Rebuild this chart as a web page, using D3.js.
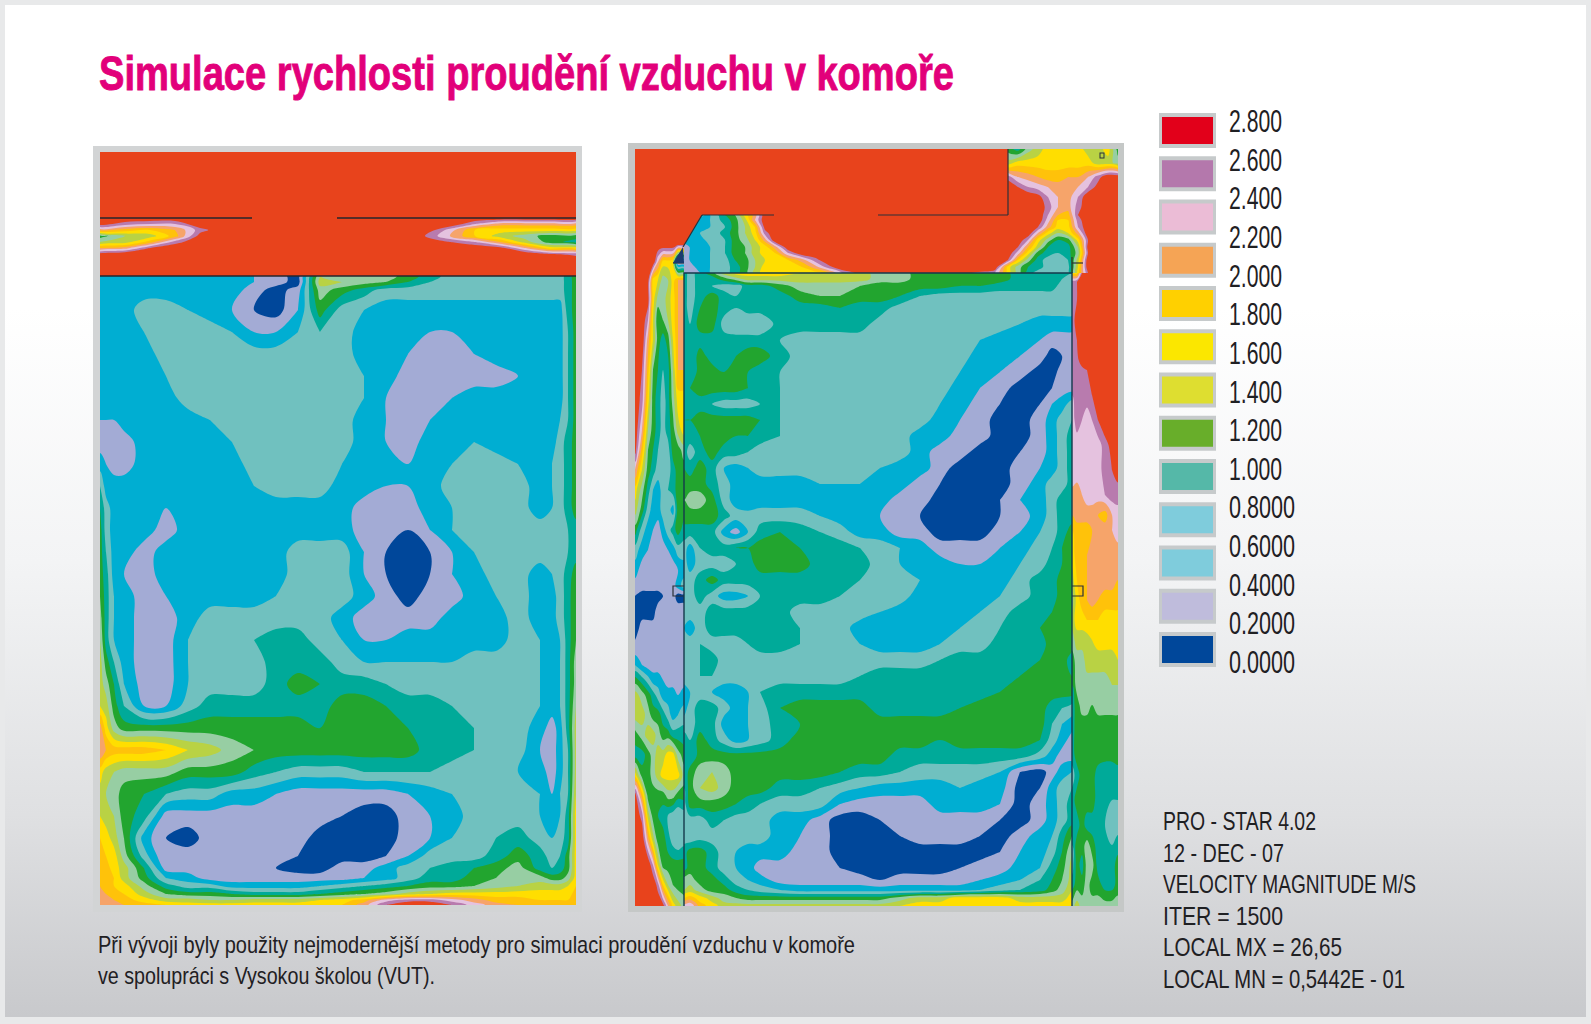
<!DOCTYPE html>
<html lang="cs">
<head>
<meta charset="utf-8">
<title>Simulace rychlosti proudění vzduchu v komoře</title>
<script src="https://cdn.jsdelivr.net/npm/d3@7"></script>
<style>
  html, body { margin: 0; padding: 0; background: #e8e9ea; }
  svg { display: block; }
  text { font-family: "Liberation Sans Narrow", "Liberation Sans", sans-serif; fill: #1f2023; }
</style>
</head>
<body>
<svg id="chart" width="1591" height="1024"></svg>
<script>
// velocity in tenths of m/s at each grid node
const bandLevels = [0, 2, 4, 6, 8, 10, 12, 14, 16, 18, 20, 22, 24, 26];
const bandColors = ['#00479a', '#a3abd5', '#00aed2', '#70c1bf', '#00aa99', '#22a52f', '#97cea3',
  '#b9d244', '#ffde00', '#ffc20a', '#f6a46a', '#e5c2df', '#b87bae', '#e8431c'];

const legendLabels = ['2.800', '2.600', '2.400', '2.200', '2.000', '1.800', '1.600', '1.400',
  '1.200', '1.000', '0.8000', '0.6000', '0.4000', '0.2000', '0.0000'];
const legendSwatches = ['#e2001a', '#b478ac', '#ebbcd6', '#f5a455', '#ffd000', '#fbe700', '#dede30',
  '#68ae2a', '#55b8a8', '#7fccdc', '#7fccdc', '#bfbcdc', '#00479a'];

const titleText = 'Simulace rychlosti proudění vzduchu v komoře';
const captionLines = ['Při vývoji byly použity nejmodernější metody pro simulaci proudění vzduchu v komoře',
  've spolupráci s Vysokou školou (VUT).'];
const noteLines = ['PRO - STAR 4.02', '12 - DEC - 07', 'VELOCITY MAGNITUDE M/S', 'ITER = 1500',
  'LOCAL MX = 26,65', 'LOCAL MN = 0,5442E - 01'];

// ---- left panel: inlet above the chamber ----
const inletX = [100, 125, 150, 175, 200, 225, 250, 275, 300, 325, 350, 375, 400, 425, 450, 475, 500, 525, 550, 576];
const inletY = [152, 218, 224, 230, 236, 242, 248, 254, 260, 276];
const inletValues = [
  [28,28,28,28,28,28,28,28,28,28,28,28,28,28,28,28,28,28,28,28],
  [28,28,28,28,28,28,28,28,28,28,28,28,28,28,28,28,28,28,28,28],
  [27,25,24,24,28,28,28,28,28,28,28,28,28,28,28,24,21,21,21,21],
  [21,19,18,20,25,28,28,28,28,28,28,28,28,28,23,18,17,17,17,17],
  [11,14,15,19,27,28,28,28,28,28,28,28,28,26,22,18,15,13,11,11],
  [14,15,19,25,28,28,28,28,28,28,28,28,28,28,26,24,20,15,11,9],
  [20,21,26,28,28,28,28,28,28,28,28,28,28,28,28,28,27,22,17,17],
  [27,28,28,28,28,28,28,28,28,28,28,28,28,28,28,28,28,28,26,25],
  [28,28,28,28,28,28,28,28,28,28,28,28,28,28,28,28,28,28,28,28],
  [28,28,28,28,28,28,28,28,28,28,28,28,28,28,28,28,28,28,28,28],
];

// ---- left panel: chamber ----
const leftX = [100, 106, 114, 124, 144, 166, 188, 210, 232, 254, 276, 298, 320, 342, 364, 386, 408, 430, 452, 474, 496, 518, 540, 552, 560, 568, 576];
const leftY = [276, 282, 290, 310, 332, 354, 376, 398, 420, 442, 464, 486, 508, 530, 552, 574, 596, 618, 640, 662, 684, 706, 728, 750, 772, 794, 816, 838, 856, 868, 878, 886, 894, 900, 905];
const leftValues = [
  [5,5,5,5,5,5,5,5,5,4,3,1,14,13,13,13,11,9,7,7,7,7,7,7,7,9,11],
  [5,5,5,5,5,5,5,5,5,4,3,1,15,14,13,12,10,8,7,7,7,7,7,7,7,9,11],
  [5,5,5,5,5,5,5,5,5,3,1,3,13,11,9,7,7,7,7,7,7,7,7,7,7,9,11],
  [5,5,5,5,7,7,6,5,4,2,1,4,11,7,6,5,5,5,5,5,5,5,5,5,5,9,11],
  [5,5,5,5,6,7,7,7,6,4,4,6,8,7,5,5,5,4,4,5,5,5,5,5,5,8,11],
  [5,5,5,5,5,7,7,7,7,7,7,7,7,7,5,5,4,3,3,4,5,5,5,5,5,8,11],
  [5,5,5,5,5,6,7,7,7,7,7,7,7,7,6,5,3,3,3,3,3,4,5,5,5,8,11],
  [5,5,5,5,5,5,7,7,7,7,7,7,7,7,6,4,3,3,4,5,5,4,5,5,5,8,11],
  [4,4,4,5,5,5,5,6,7,7,7,7,7,7,5,4,3,4,5,5,5,5,5,5,6,8,11],
  [3,3,3,3,5,5,5,5,6,7,7,7,7,7,5,4,3,5,5,6,5,5,5,5,7,9,11],
  [5,4,3,3,5,5,5,5,5,7,7,7,7,6,5,5,4,5,6,7,7,6,5,6,7,9,11],
  [8,5,5,5,5,5,5,5,5,6,7,7,7,5,5,4,4,5,7,7,7,7,5,6,7,9,11],
  [10,7,5,5,5,4,5,5,5,5,5,5,5,5,3,3,3,5,6,7,7,7,5,6,7,9,11],
  [11,7,5,5,5,3,5,5,5,5,5,5,5,5,3,2,2,4,6,7,7,7,7,7,7,8,9],
  [11,8,5,5,3,5,5,5,5,5,5,7,7,7,4,2,1,2,4,6,7,7,7,7,7,8,9],
  [11,9,5,4,3,5,5,5,5,5,5,7,7,7,4,2,1,2,4,5,7,7,5,6,7,9,11],
  [12,9,6,5,3,4,5,5,5,5,6,7,7,7,5,3,1,3,3,5,6,7,5,5,7,9,12],
  [13,9,6,5,3,3,5,7,7,7,7,7,7,5,3,3,3,3,5,5,5,7,5,5,7,9,12],
  [14,9,6,5,3,3,6,7,7,8,9,9,7,6,4,4,5,5,5,5,5,7,6,5,6,9,12],
  [15,11,8,5,3,3,6,7,7,7,9,9,9,7,6,6,6,6,6,7,7,7,6,5,6,9,13],
  [15,13,10,6,3,3,6,7,7,7,9,11,10,9,9,8,7,7,7,7,7,7,6,5,6,9,13],
  [16,15,11,8,4,4,7,9,9,9,9,9,9,11,11,10,9,9,8,7,7,7,6,5,6,9,14],
  [21,17,13,11,11,11,11,11,11,11,11,11,10,11,11,11,10,9,9,8,7,7,5,3,5,9,15],
  [22,20,19,19,19,18,16,15,13,12,11,11,11,11,11,11,11,9,9,8,7,7,4,3,5,8,15],
  [17,15,14,13,13,13,11,11,11,9,8,7,7,7,8,8,8,8,7,7,7,6,5,3,5,8,15],
  [15,14,13,11,10,8,7,7,5,5,4,3,3,3,3,3,4,5,6,7,7,7,6,4,6,8,16],
  [16,15,14,11,9,3,3,3,3,3,3,3,3,2,1,1,3,4,5,7,7,7,6,5,6,9,17],
  [18,17,15,12,5,2,1,3,3,3,3,3,1,1,1,1,3,4,6,7,8,9,7,6,7,9,17],
  [19,18,17,13,7,2,3,3,3,3,3,2,1,1,1,2,4,7,7,7,9,11,9,7,8,11,17],
  [20,19,17,15,10,3,3,3,3,3,2,1,1,3,3,5,7,8,9,10,11,13,9,8,9,11,17],
  [20,19,18,15,11,6,5,3,3,3,3,3,3,3,4,5,7,9,9,11,12,13,13,11,11,13,17],
  [20,19,18,17,13,9,7,7,5,5,5,5,6,7,8,9,10,11,11,12,13,14,15,15,15,16,18],
  [20,20,19,18,15,12,11,11,10,9,9,9,10,11,12,13,15,16,17,17,17,17,17,17,17,17,19],
  [20,20,20,19,17,15,15,14,14,15,15,15,16,17,19,23,25,25,23,21,19,19,18,18,18,18,19],
  [21,20,20,20,19,18,17,17,17,17,17,17,17,18,21,26,28,28,26,23,21,20,19,19,19,19,20],
];

// ---- right panel: chamber ----
const rightX = [684, 690, 700, 712, 724, 736, 748, 760, 780, 800, 820, 840, 860, 880, 900, 920, 940, 960, 980, 1000, 1020, 1040, 1052, 1062, 1072];
const rightY = [273, 279, 286, 296, 308, 324, 340, 356, 372, 388, 404, 420, 436, 452, 468, 484, 500, 516, 532, 548, 564, 580, 596, 612, 628, 644, 660, 676, 692, 708, 724, 740, 756, 772, 788, 804, 820, 836, 852, 868, 880, 890, 898, 906];
const rightValues = [
  [9,7,9,11,15,17,17,17,17,16,15,15,15,13,13,11,11,11,11,11,9,9,9,8,8],
  [9,7,9,9,11,13,15,15,15,15,15,15,15,13,13,11,11,11,11,11,9,9,9,8,7],
  [9,7,9,8,7,7,9,9,11,13,13,13,12,11,11,11,11,10,10,9,9,9,9,7,7],
  [9,7,9,11,9,8,9,9,9,11,12,12,11,11,10,8,7,7,7,7,7,7,7,7,7],
  [9,7,10,11,9,8,9,9,9,9,9,10,9,9,7,7,7,7,7,7,7,7,7,7,7],
  [9,8,11,11,7,6,6,6,9,9,9,9,9,7,7,7,7,7,7,7,6,5,5,5,5],
  [9,8,9,9,9,9,9,9,8,7,7,7,7,7,7,7,7,7,6,5,5,4,3,3,3],
  [9,8,11,9,9,10,11,11,9,7,7,7,7,7,7,7,7,7,5,5,4,3,1,2,3],
  [8,8,11,11,10,10,10,9,8,7,7,7,7,7,7,7,7,6,5,4,3,1,1,3,3],
  [9,10,11,11,11,11,10,9,8,7,7,7,7,7,7,7,7,5,4,3,1,1,2,3,3],
  [9,9,9,8,7,7,7,8,8,7,7,7,7,7,7,7,6,5,3,2,1,2,4,5,7],
  [10,10,11,11,11,11,11,10,8,7,7,7,7,7,7,7,5,4,3,1,1,3,5,7,8],
  [9,9,10,11,11,10,10,9,8,7,7,7,7,7,7,5,5,3,3,1,1,3,5,7,9],
  [9,7,9,11,9,9,8,7,7,7,7,7,7,7,7,5,3,3,1,1,2,3,5,7,9],
  [10,9,11,9,6,5,6,7,7,7,7,7,7,6,5,5,3,1,1,1,3,4,5,7,9],
  [10,11,11,9,7,5,4,5,5,5,6,6,6,5,5,3,2,1,1,1,3,5,7,7,9],
  [12,13,13,11,7,5,4,5,5,5,5,5,5,5,3,3,1,1,1,2,4,5,7,9,9],
  [11,11,11,11,9,7,7,7,7,7,6,5,5,4,3,2,1,1,1,2,3,5,7,9,9],
  [9,9,9,9,5,3,6,9,10,9,8,7,5,5,3,3,1,1,1,3,4,6,7,9,11],
  [7,5,8,9,9,10,10,11,11,10,9,9,8,7,6,5,3,3,3,4,5,7,8,10,11],
  [7,5,7,7,7,8,9,11,11,11,9,9,9,7,6,5,5,4,4,5,6,7,9,10,11],
  [8,7,9,11,9,9,9,9,9,9,9,9,8,7,7,6,5,5,5,5,7,9,9,11,11],
  [8,7,9,7,5,5,6,8,9,9,9,8,7,7,7,5,5,5,5,6,7,9,9,11,11],
  [8,7,7,9,9,9,9,9,9,7,7,7,7,6,5,5,5,5,6,7,9,9,10,11,11],
  [6,5,7,9,9,9,9,9,9,8,7,7,5,5,5,5,5,6,7,8,9,10,11,11,11],
  [6,7,8,7,7,7,8,9,9,8,7,7,6,5,5,5,6,7,7,9,9,9,11,11,11],
  [7,7,8,9,7,7,7,7,7,7,7,7,7,7,7,7,8,9,9,9,9,10,11,11,9],
  [7,7,8,8,7,7,7,7,7,7,7,7,8,9,9,9,9,9,9,9,10,11,11,11,10],
  [5,6,7,6,5,5,6,8,9,9,9,9,9,9,9,9,9,9,9,10,11,11,11,11,11],
  [5,7,9,9,7,5,6,7,10,11,11,11,11,9,9,9,9,10,11,11,11,11,9,8,7],
  [7,7,9,9,5,5,6,7,9,10,11,11,11,11,11,11,11,11,11,11,11,11,8,6,5],
  [9,8,11,9,7,5,6,7,9,11,11,11,11,11,11,11,10,11,11,11,11,10,7,5,3],
  [9,8,11,11,11,11,11,11,11,11,11,11,11,11,9,9,9,9,9,9,9,7,5,3,3],
  [8,11,13,14,13,11,11,11,11,11,11,10,9,9,8,7,7,7,7,6,2,1,3,5,6],
  [8,11,14,15,13,11,11,11,9,9,8,7,6,5,5,5,5,6,5,5,1,2,5,7,8],
  [7,11,11,11,11,10,9,8,7,7,7,4,3,3,3,3,5,5,5,4,1,3,5,7,9],
  [7,7,7,9,8,7,7,7,5,5,3,1,1,2,3,3,3,3,3,2,1,3,5,7,9],
  [7,6,7,7,7,7,7,7,5,4,3,1,1,1,2,3,3,3,2,1,3,5,6,9,12],
  [9,11,11,9,7,6,5,5,5,3,3,1,1,1,1,1,1,1,1,2,4,5,7,10,14],
  [9,11,11,9,7,6,5,3,3,3,3,2,1,1,1,1,1,2,3,3,5,6,9,11,15],
  [13,13,11,11,9,7,6,5,3,3,3,3,3,2,3,3,3,3,4,5,6,8,10,12,15],
  [14,15,13,11,11,9,8,7,6,5,5,5,5,5,5,5,5,5,6,7,8,9,11,13,16],
  [18,19,17,15,13,12,11,11,11,11,11,11,11,11,13,15,15,17,17,17,15,15,15,15,17],
  [23,24,19,17,15,15,15,15,15,15,15,15,15,15,16,17,17,17,17,17,17,17,17,17,17],
];

// ---- right panel: flow around the chamber, above it ----
const topX = [684, 695, 705, 715, 725, 735, 745, 755, 765, 775, 788, 802, 815, 828, 842, 868, 948, 995, 1008, 1018, 1028, 1038, 1048, 1058, 1068, 1078, 1088, 1098, 1108, 1118];
const topY = [149, 163, 177, 187, 197, 207, 215, 220, 227, 233, 240, 247, 253, 260, 267, 273];
const topValues = [
  [28,28,28,28,28,28,28,28,28,28,28,28,28,28,28,28,28,28,11,9,13,15,17,17,17,17,15,15,17,11],
  [28,28,28,28,28,28,28,28,28,28,28,28,28,28,28,28,28,28,15,17,17,17,17,17,17,17,17,15,15,13],
  [28,28,28,28,28,28,28,28,28,28,28,28,28,28,28,28,28,28,25,22,21,20,19,19,20,20,22,25,28,28],
  [28,28,28,28,28,28,28,28,28,28,28,28,28,28,28,28,28,28,28,26,24,23,22,21,21,22,24,27,28,28],
  [28,28,28,28,28,28,28,28,28,28,28,28,28,28,28,28,28,28,28,28,28,27,24,22,21,24,28,28,28,28],
  [28,28,28,28,28,28,28,28,28,28,28,28,28,28,28,28,28,28,28,28,28,28,25,22,21,25,28,28,28,28],
  [28,28,5,7,10,12,17,21,28,28,28,28,28,28,28,28,28,28,28,28,28,28,24,20,19,26,28,28,28,28],
  [5,5,5,7,9,11,15,22,28,28,28,28,28,28,28,28,28,28,28,28,28,28,23,18,18,25,28,28,28,28],
  [5,5,5,7,8,11,14,18,27,28,28,28,28,28,28,28,28,28,28,28,28,26,21,17,17,24,28,28,28,28],
  [5,5,7,7,9,11,14,17,25,28,28,28,28,28,28,28,28,28,28,28,28,22,17,14,16,21,28,28,28,28],
  [5,5,6,7,8,11,13,16,21,28,28,28,28,28,28,28,28,28,28,28,24,17,13,10,11,17,26,28,28,28],
  [3,5,5,7,8,11,12,15,17,21,28,28,28,28,28,28,28,28,28,26,20,15,10,9,9,14,27,28,28,28],
  [3,5,5,7,8,11,12,15,17,18,24,28,28,28,28,28,28,28,28,23,17,11,9,8,9,13,26,28,28,28],
  [3,5,5,7,7,10,11,14,16,17,18,21,25,28,28,28,28,28,26,18,13,9,7,7,8,15,28,28,28,28],
  [3,4,5,7,7,9,11,14,17,17,17,18,21,25,28,28,28,28,17,13,10,9,7,7,7,16,28,28,28,28],
  [3,3,5,7,7,9,11,15,17,17,17,17,17,19,24,28,28,24,17,13,9,7,7,7,7,17,26,28,28,28],
];

// ---- right panel: strip left of the chamber ----
const stripLeftX = [635, 642, 648, 653, 658, 663, 668, 673, 678, 684];
const stripLeftY = [245, 262, 280, 300, 320, 340, 370, 400, 430, 450, 470, 490, 510, 530, 550, 570, 586, 596, 610, 630, 650, 665, 680, 695, 715, 735, 755, 775, 795, 815, 840, 865, 885, 906];
const stripLeftValues = [
  [28,28,28,28,28,28,28,28,26,26],
  [28,28,28,28,22,17,17,16,1,1],
  [28,28,27,17,16,13,14,17,20,20],
  [28,28,27,17,13,13,15,17,20,21],
  [28,28,24,16,10,12,14,17,20,21],
  [28,28,21,16,11,9,11,16,20,20],
  [28,26,19,12,10,8,9,14,20,20],
  [28,25,17,11,9,7,9,13,17,17],
  [28,22,14,11,9,7,9,11,15,17],
  [27,19,12,10,8,7,7,11,11,13],
  [22,16,11,9,7,7,7,9,11,11],
  [17,13,9,6,5,7,8,9,11,11],
  [15,11,7,5,5,7,7,5,11,11],
  [11,7,5,4,3,5,7,9,11,9],
  [7,5,4,3,3,3,4,5,7,7],
  [5,3,3,3,3,3,3,3,4,5],
  [3,3,3,3,3,3,3,3,5,7],
  [2,1,1,1,1,2,3,3,1,1],
  [1,1,1,1,3,3,3,3,3,3],
  [1,3,3,3,3,3,3,3,3,3],
  [3,3,3,3,3,3,3,3,3,3],
  [6,4,3,3,3,3,3,3,3,3],
  [11,9,7,5,5,4,3,3,3,3],
  [15,13,11,9,7,5,5,5,4,5],
  [15,15,13,11,11,9,7,5,6,7],
  [11,13,15,15,13,11,11,9,9,9],
  [9,9,11,13,15,15,17,17,13,11],
  [17,11,11,13,15,17,17,17,17,13],
  [27,19,11,11,11,11,13,13,11,11],
  [28,25,15,11,10,9,8,7,6,7],
  [28,28,21,15,11,11,9,7,6,7],
  [28,28,28,24,16,11,11,11,11,11],
  [28,28,28,28,25,18,14,12,11,11],
  [28,28,28,28,28,27,22,17,15,13],
];

// ---- right panel: strip right of the chamber ----
const stripRightX = [1072, 1077, 1082, 1087, 1092, 1098, 1105, 1112, 1118];
const stripRightY = [273, 282, 300, 320, 340, 360, 370, 395, 420, 445, 470, 495, 515, 530, 555, 580, 600, 620, 640, 660, 685, 705, 725, 755, 775, 800, 825, 845, 865, 885, 906];
const stripRightValues = [
  [17,17,26,28,28,28,28,28,28],
  [25,26,28,28,28,28,28,28,28],
  [24,26,28,28,28,28,28,28,28],
  [25,27,28,28,28,28,28,28,28],
  [24,26,28,28,28,28,28,28,28],
  [24,25,28,28,28,28,28,28,28],
  [25,25,25,26,28,28,28,28,28],
  [24,25,25,25,26,28,28,28,28],
  [23,25,24,23,24,26,28,28,28],
  [24,23,23,24,23,23,25,27,28],
  [24,23,24,23,23,23,25,26,27],
  [21,21,22,23,23,23,24,25,25],
  [20,21,21,21,21,20,19,22,23],
  [18,19,19,19,20,21,21,22,23],
  [17,19,19,20,21,21,21,21,21],
  [15,18,19,20,21,21,21,21,20],
  [13,17,19,20,21,20,19,19,19],
  [15,17,17,18,18,18,17,17,17],
  [13,15,15,15,16,17,17,17,17],
  [11,13,13,15,15,15,15,15,16],
  [10,13,13,13,13,13,13,14,14],
  [9,11,13,13,12,13,13,13,13],
  [9,11,11,11,11,11,11,11,11],
  [9,11,11,11,11,11,11,11,11],
  [7,9,11,11,11,9,8,8,9],
  [9,11,10,11,11,9,9,8,8],
  [9,9,11,9,9,8,8,7,7],
  [8,11,11,13,11,9,8,8,9],
  [7,11,9,13,13,9,8,9,11],
  [9,11,11,13,11,11,9,9,11],
  [13,15,13,13,13,13,13,13,13],
];

const svg = d3.select('#chart');
const defs = svg.append('defs');

const bg = defs.append('linearGradient').attr('id', 'page-bg').attr('x1', 0).attr('y1', 0).attr('x2', 0).attr('y2', 1);
bg.append('stop').attr('offset', '0.3').attr('stop-color', '#ffffff');
bg.append('stop').attr('offset', '0.55').attr('stop-color', '#f3f4f5');
bg.append('stop').attr('offset', '0.8').attr('stop-color', '#dfe0e2');
bg.append('stop').attr('offset', '1').attr('stop-color', '#c8c9cc');
svg.append('rect').attr('x', 5).attr('y', 5).attr('width', 1581).attr('height', 1012).attr('fill', 'url(#page-bg)');

// squeeze a real text to the width it has in the picture
function fitText(sel, width) {
  sel.attr('textLength', width).attr('lengthAdjust', 'spacingAndGlyphs');
}

svg.append('text').attr('x', 99).attr('y', 90)
  .attr('font-size', 48).attr('font-weight', 700)
  .style('fill', '#e2007a').style('stroke', '#e2007a').style('stroke-width', 0.9)
  .text(titleText).call(fitText, 855);

const bandColor = d3.scaleOrdinal(bandLevels, bandColors);
const ringLine = d3.line().curve(d3.curveCatmullRomClosed.alpha(0.5));

// contour one field, grid nodes placed through piecewise scales.
// the outer edge is pushed past the clip so rounding the rings leaves no gaps at the walls
function drawField(parent, name, values, xs, ys) {
  values.forEach((row, i) => {
    if (row.length !== xs.length) throw new Error(name + ' row ' + i + ' has ' + row.length);
  });
  if (values.length !== ys.length) throw new Error(name + ' has ' + values.length + ' rows');
  const edge = 8;
  const x = d3.scaleLinear()
    .domain([-0.5, ...d3.range(xs.length), xs.length - 0.5])
    .range([xs[0] - edge, ...xs, xs[xs.length - 1] + edge]);
  const y = d3.scaleLinear()
    .domain([-0.5, ...d3.range(ys.length), ys.length - 0.5])
    .range([ys[0] - edge, ...ys, ys[ys.length - 1] + edge]);
  const contours = d3.contours().size([xs.length, ys.length]).thresholds(bandLevels)(values.flat());
  const ringPath = (ring) => ringLine(ring.slice(0, -1).map(([px, py]) => [x(px - 0.5), y(py - 0.5)]));

  const clipId = 'clip-' + name;
  defs.append('clipPath').attr('id', clipId).append('rect')
    .attr('x', xs[0]).attr('y', ys[0])
    .attr('width', xs[xs.length - 1] - xs[0]).attr('height', ys[ys.length - 1] - ys[0]);

  parent.append('g').attr('class', name).attr('clip-path', 'url(#' + clipId + ')')
    .selectAll('path').data(contours).join('path')
    .attr('d', (d) => d.coordinates.map((poly) => poly.map(ringPath).join('')).join(''))
    .attr('fill', (d) => bandColor(d.value));
}

function drawWalls(parent, segments, color, width) {
  const line = d3.line();
  parent.append('g').selectAll('path').data(segments).join('path')
    .attr('d', (d) => line(d))
    .attr('fill', 'none').attr('stroke', color).attr('stroke-width', width);
}

// ---- left panel ----
const left = svg.append('g');
left.append('rect').attr('x', 93).attr('y', 146).attr('width', 489).attr('height', 766).attr('fill', '#d2d4d5');
drawField(left, 'inlet', inletValues, inletX, inletY);
drawField(left, 'chamber-left', leftValues, leftX, leftY);
drawWalls(left, [[[100, 218], [252, 218]], [[337, 218], [576, 218]], [[100, 276], [576, 276]]], '#26262c', 1.3);

// ---- right panel ----
const right = svg.append('g');
right.append('rect').attr('x', 628).attr('y', 143).attr('width', 496).attr('height', 769).attr('fill', '#c5c8c7');
right.append('rect').attr('x', 635).attr('y', 149).attr('width', 483).attr('height', 757).attr('fill', bandColor(26));

// the flow above the chamber ends at the walls of the inlet block
defs.append('clipPath').attr('id', 'above-chamber').append('polygon')
  .attr('points', '702,215 683,247 684,273 1118,273 1118,149 1008,149 1008,215');
const above = right.append('g').attr('clip-path', 'url(#above-chamber)');
drawField(above, 'above', topValues, topX, topY);
drawField(right, 'strip-left', stripLeftValues, stripLeftX, stripLeftY);
drawField(right, 'strip-right', stripRightValues, stripRightX, stripRightY);
drawField(right, 'chamber-right', rightValues, rightX, rightY);

drawWalls(right, [
  [[702, 215], [774, 215]], [[878, 215], [1008, 215]], [[1008, 149], [1008, 215]],
  [[702, 215], [683, 247]], [[673, 263], [684, 263]], [[1072, 263], [1083, 263]],
  [[1072, 257], [1072, 273]],
  [[684, 586], [673, 586], [673, 596], [684, 596]],
  [[1072, 586], [1083, 586], [1083, 596], [1072, 596]],
], '#2c3138', 1.2);
drawWalls(right, [[[684, 906], [684, 273], [1072, 273], [1072, 906]]], '#14394b', 1.4);
right.append('path').attr('d', d3.line()([[683, 247], [673, 263], [684, 263]]) + 'Z').attr('fill', '#1c3a6e');
right.append('rect').attr('x', 1100).attr('y', 153).attr('width', 4).attr('height', 5)
  .attr('fill', 'none').attr('stroke', '#2c3138').attr('stroke-width', 1);

// ---- legend ----
const swatchY = d3.scaleLinear().domain([0, legendSwatches.length - 1]).range([113, 632]);
const labelY = d3.scaleLinear().domain([0, legendLabels.length - 1]).range([132, 673]);
const legend = svg.append('g');
legend.selectAll('rect.frame').data(legendSwatches).join('rect').attr('class', 'frame')
  .attr('x', 1159).attr('y', (d, i) => swatchY(i)).attr('width', 57).attr('height', 35).attr('fill', '#c6cacb');
legend.selectAll('rect.fill').data(legendSwatches).join('rect').attr('class', 'fill')
  .attr('x', 1162).attr('y', (d, i) => swatchY(i) + 4).attr('width', 51).attr('height', 27).attr('fill', (d) => d);
legend.selectAll('text').data(legendLabels).join('text')
  .attr('x', 1229).attr('y', (d, i) => labelY(i))
  .attr('font-size', 31)
  .text((d) => d)
  .attr('textLength', (d) => (d.length === 5 ? 53 : 66))
  .attr('lengthAdjust', 'spacingAndGlyphs');

// ---- run info, bottom right ----
const noteWidths = [153, 121, 253, 120, 179, 242];
const noteY = d3.scaleLinear().domain([0, noteLines.length - 1]).range([830, 988]);
svg.append('g').selectAll('text').data(noteLines).join('text')
  .attr('x', 1163).attr('y', (d, i) => noteY(i))
  .attr('font-size', 25)
  .text((d) => d)
  .attr('textLength', (d, i) => noteWidths[i])
  .attr('lengthAdjust', 'spacingAndGlyphs');

// ---- caption ----
const captionWidths = [757, 337];
svg.append('g').selectAll('text').data(captionLines).join('text')
  .attr('x', 98).attr('y', (d, i) => 953 + i * 31)
  .attr('font-size', 24)
  .text((d) => d)
  .attr('textLength', (d, i) => captionWidths[i])
  .attr('lengthAdjust', 'spacingAndGlyphs');
</script>
</body>
</html>
